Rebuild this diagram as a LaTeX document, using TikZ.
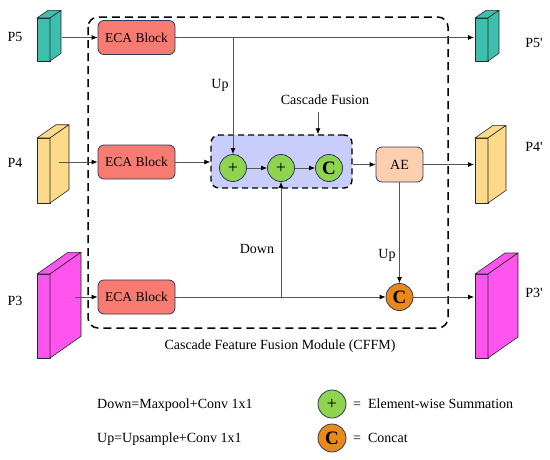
\documentclass[tikz,border=0pt]{standalone}
\usepackage{fontspec}
\setmainfont{Liberation Serif}[Ligatures=TeX]
\newfontfamily\figfont{Liberation Serif}
\usetikzlibrary{arrows.meta}
\definecolor{teal5}{HTML}{3DBFAD}
\definecolor{yel4}{HTML}{FDD98A}
\definecolor{mag3}{HTML}{FF55EE}
\definecolor{ecared}{HTML}{F87B72}
\definecolor{navy}{HTML}{2C3A5C}
\definecolor{aepeach}{HTML}{FCD0AE}
\definecolor{sumgreen}{HTML}{8ED44E}
\definecolor{catorange}{HTML}{E9891C}
\definecolor{fusionblue}{HTML}{C9CDFB}
\definecolor{linegray}{HTML}{555555}
\newcommand{\drawprism}[6]{%
  \filldraw[draw=black!85, fill=#6, line width=0.6pt, line join=round] (#1,#2) rectangle (#3,#4);
  \filldraw[draw=black!85, fill=#6, line width=0.6pt, line join=round] (#1,#2) -- ({#1+#5},{#2-0.7*#5}) -- ({#3+#5},{#2-0.7*#5}) -- (#3,#2) -- cycle;
  \filldraw[draw=black!85, fill=#6, line width=0.6pt, line join=round] (#3,#2) -- ({#3+#5},{#2-0.7*#5}) -- ({#3+#5},{#4-0.7*#5}) -- (#3,#4) -- cycle;
}
\begin{document}
\begin{tikzpicture}[x=1pt,y=-1pt, font=\figfont\fontsize{14}{16}\selectfont,
 ecabox/.style={draw=navy, fill=ecared, rounded corners=6pt, minimum width=77pt, minimum height=34pt, line width=0.8pt, inner sep=0pt, font=\figfont\fontsize{13.5}{15}\selectfont},
 aebox/.style={draw=navy, fill=aepeach, rounded corners=6pt, minimum width=47pt, minimum height=35pt, line width=0.8pt, inner sep=0pt},
 sumnode/.style={circle, draw=navy, fill=sumgreen, minimum size=27pt, inner sep=0pt, line width=0.8pt, font=\figfont\fontsize{18}{18}\selectfont},
 catnode/.style={circle, draw=navy, fill=#1, minimum size=27pt, inner sep=0pt, line width=0.8pt, font=\figfont\bfseries\fontsize{19}{19}\selectfont},
 conn/.style={draw=linegray, line width=0.8pt},
 arr/.style={conn, -{Latex[length=6pt,width=5pt,color=black]}},
 lbl/.style={inner sep=0pt}
]
\useasboundingbox (0,0) rectangle (550,459);

% prisms
\drawprism{37}{18}{50}{61}{11}{teal5}
\drawprism{37}{138}{50}{203}{19}{yel4}
\drawprism{37}{274}{50}{358}{31}{mag3}
\drawprism{475}{18}{488}{61}{11}{teal5}
\drawprism{475}{138}{488}{203}{18}{yel4}
\drawprism{475}{274}{488}{358}{30}{mag3}

\node[lbl] (l5) at (15,37) {P5};
\node[lbl] (l4) at (15,163) {P4};
\node[lbl] (l3) at (15,301) {P3};
\node[lbl] (l5o) at (534,43) {P5'};
\node[lbl] (l4o) at (534,147) {P4'};
\node[lbl] (l3o) at (534,293) {P3'};

\coordinate (p5s) at (62,37.5);
\coordinate (p4s) at (59,162);
\coordinate (p3s) at (75,297);
\coordinate (p5t) at (474,37.5);
\coordinate (p4t) at (474,164.5);
\coordinate (p3t) at (474,297);

% fusion box
\node[draw=black, fill=fusionblue, dashed, dash pattern=on 6pt off 4pt, line width=1.4pt, rounded corners=8pt, minimum width=141pt, minimum height=53pt] (fus) at (281.5,161.5) {};

% ECA blocks
\node[ecabox] (eca5) at (136.5,37.5) {ECA Block};
\node[ecabox] (eca4) at (136.5,162) {ECA Block};
\node[ecabox] (eca3) at (136.5,297) {ECA Block};

\node[sumnode] (s1) at (233,168) {+};
\node[sumnode] (s2) at (281,168) {+};
\node[catnode=sumgreen] (c1) at (329,168) {C};
\node[aebox] (ae) at (399.5,164.5) {AE};
\node[catnode=catorange] (c2) at (399.5,297) {C};

% outer dashed box
\draw[black, line width=1.5pt, dash pattern=on 8pt off 5pt, rounded corners=10pt] (88,17) rectangle (448,328);

% connectors
\draw[arr] (p5s) -- (eca5.west);
\draw[arr] (p4s) -- (eca4.west);
\draw[arr] (p3s) -- (eca3.west);
\draw[arr] (eca5.east) -- (p5t);
\coordinate (upsplit) at (233,37.5);
\draw[arr] (upsplit) -- (s1.north);
\draw[arr] (eca4.east) -- (eca4.east -| fus.west);
\draw[arr] (s1.east) -- (s2.west);
\draw[arr] (s2.east) -- (c1.west);
\draw[arr] (ae.west -| fus.east) -- (ae.west);
\draw[arr] (ae.east) -- (p4t);
\draw[arr] (ae.south) -- (c2.north);
\draw[arr] (eca3.east) -- (c2.west);
\coordinate (downsplit) at (281,297);
\draw[arr] (downsplit) -- (s2.south);
\draw[arr] (c2.east) -- (p3t);

\node[lbl] (cfl) at (325,100) {Cascade Fusion};
\coordinate (cfa) at (318,112);
\draw[arr] (cfa) -- (cfa |- fus.north);

\node[lbl] (up1) at (220,85) {Up};
\node[lbl] (up2) at (387,255) {Up};
\node[lbl] (down) at (257,249) {Down};
\node[lbl] (cffm) at (280,346) {Cascade Feature Fusion Module (CFFM)};

% legend
\node[lbl, anchor=west] (leg1) at (97,405) {Down=Maxpool+Conv 1x1};
\node[lbl, anchor=west] (leg2) at (97,439) {Up=Upsample+Conv 1x1};
\node[sumnode, minimum size=28pt] (ls) at (332,404) {+};
\node[catnode=catorange, minimum size=28pt] (lc) at (332,438) {C};
\node[lbl, anchor=west] (lst) at (353,404) {=\ \ Element-wise Summation};
\node[lbl, anchor=west] (lct) at (353,438) {=\ \ Concat};
\end{tikzpicture}
\end{document}
